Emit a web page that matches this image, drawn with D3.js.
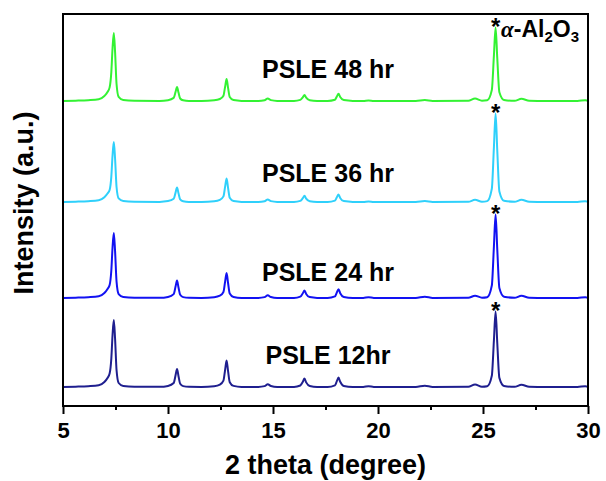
<!DOCTYPE html>
<html><head><meta charset="utf-8">
<script src="https://cdn.jsdelivr.net/npm/d3@7"></script>
<style>
body{margin:0;background:#fff}
svg text{font-family:"Liberation Sans",Arial,Helvetica,sans-serif;font-weight:bold;fill:#000}
</style>
</head><body><svg id="chart" width="606" height="481"></svg>
<script>
// ---- data ----
const twoTheta = [
  5.0, 5.6, 6.2, 6.7, 6.97, 7.12, 7.22, 7.3, 7.36, 7.42, 7.48, 7.55, 7.65, 7.87, 8.4,
  9.6, 10.0, 10.27, 10.36, 10.43, 10.5, 10.58, 10.72, 11.0,
  11.6, 12.2, 12.47, 12.64, 12.72, 12.79, 12.86, 12.94, 13.12, 13.5,
  14.3, 14.6, 14.75, 14.9, 15.2,
  16.0, 16.3, 16.42, 16.5, 16.58, 16.75, 17.1,
  17.6, 17.95, 18.04, 18.12, 18.2, 18.37, 18.8,
  19.3, 19.55, 19.8,
  21.8, 22.23, 22.6,
  24.3, 24.62, 24.95,
  25.2, 25.42, 25.52, 25.6, 25.68, 25.78, 26.0,
  26.5, 26.83, 27.2,
  28.0, 29.5, 29.87, 30.0
];
const int12hr = [
  0, 0.3, 0.8, 1.8, 5, 9, 13.4, 28.1, 52.3, 67, 48.2, 16.8, 4, 1, 0.3,
  0.2, 1.1, 4, 11.7, 18, 10.8, 3.2, 0.9, 0.2,
  0.1, 0.8, 2.4, 6.4, 17.2, 26.5, 15.9, 4.8, 1.1, 0.1,
  0.1, 0.9, 2.8, 1.0, 0.1,
  0.1, 1.5, 5.2, 8.4, 4.6, 1, 0.1,
  0.1, 1.7, 5.8, 9.4, 5.2, 1.1, 0.1,
  0.1, 0.8, 0.1,
  0.1, 1.2, 0.1,
  0.2, 2.5, 0.3,
  0.8, 11.3, 46.8, 75.5, 43.8, 9.1, 1.1,
  0.2, 2.2, 0.2,
  0, 0.1, 0.8, 0.3
];
const int24hr = [
  0, 0.3, 0.8, 1.8, 5, 9, 13, 27.3, 50.7, 65, 46.8, 16.3, 3.9, 1, 0.3,
  0.2, 1.1, 3.9, 11.4, 17.5, 10.5, 3.2, 0.9, 0.2,
  0.1, 0.8, 2.3, 6, 16.3, 25, 15, 4.5, 1, 0.1,
  0.1, 0.9, 2.7, 1.0, 0.1,
  0.1, 1.4, 4.7, 7.5, 4.1, 0.9, 0.1,
  0.1, 1.6, 5.5, 8.8, 4.8, 1.1, 0.1,
  0.1, 0.8, 0.1,
  0.1, 1.2, 0.1,
  0.2, 2.3, 0.3,
  0.8, 12.5, 51.8, 83.5, 48.4, 10, 1.3,
  0.2, 2.2, 0.2,
  0, 0.1, 0.8, 0.3
];
const int36hr = [
  0, 0.3, 0.8, 1.8, 4.8, 8.5, 12, 25.2, 46.8, 60, 43.2, 15, 3.6, 1, 0.3,
  0.1, 0.9, 3.2, 9.4, 14.5, 8.7, 2.6, 0.7, 0.1,
  0.1, 0.7, 2.1, 5.6, 15.3, 23.5, 14.1, 4.2, 0.9, 0.1,
  0.1, 0.8, 2.4, 0.9, 0.1,
  0.1, 1.1, 3.8, 6.2, 3.4, 0.7, 0.1,
  0.1, 1.4, 4.7, 7.5, 4.1, 0.9, 0.1,
  0.1, 0.6, 0.1,
  0.1, 1, 0.1,
  0.2, 2.2, 0.3,
  0.9, 13.3, 54.9, 88.5, 51.3, 10.6, 1.3,
  0.2, 2.2, 0.2,
  0, 0.1, 0.7, 0.3
];
const int48hr = [
  0, 0.3, 0.8, 1.8, 5, 9, 13.6, 28.6, 53, 68, 49, 17, 4.1, 1, 0.3,
  0.1, 0.8, 3.1, 9.1, 14, 8.4, 2.5, 0.7, 0.1,
  0.1, 0.7, 2, 5.3, 14.3, 22, 13.2, 4, 0.9, 0.1,
  0.1, 0.8, 2.4, 0.9, 0.1,
  0.1, 1.1, 3.7, 6, 3.3, 0.7, 0.1,
  0.1, 1.3, 4.5, 7.3, 4, 0.9, 0.1,
  0.1, 0.6, 0.1,
  0.1, 1, 0.1,
  0.2, 2.4, 0.3,
  0.7, 11, 45.6, 73.5, 42.6, 8.8, 1.1,
  0.2, 2.2, 0.2,
  0, 0.1, 0.7, 0.3
];
const seriesNames = ["PSLE 12hr", "PSLE 24 hr", "PSLE 36 hr", "PSLE 48 hr"];
const seriesIntensity = [int12hr, int24hr, int36hr, int48hr];
const baselineOffsets = [19, 108, 204, 305];   // vertical stacking offsets (a.u.)
const xMajorTicks = [5, 10, 15, 20, 25, 30];
const xMinorTicks = [7.5, 12.5, 17.5, 22.5, 27.5];
const aluminaPeak = 25.6;

// ---- styles / layout ----
const colors = ["#1f1f8f", "#1212f2", "#2fd0fb", "#33f233"];
const labelLift = [23, 17, 20, 23];   // px above baseline for series labels
const plot = {left: 63, right: 588, top: 14, bottom: 406};

const svg = d3.select("#chart");
const x = d3.scaleLinear().domain([5, 30]).range([plot.left, plot.right]);
const y = d3.scaleLinear().domain([0, 392]).range([plot.bottom, plot.top]);

const line = d3.line()
  .x(d => x(d[0]))
  .y(d => y(d[1]))
  .curve(d3.curveMonotoneX);

seriesIntensity.forEach((vals, i) => {
  const pts = twoTheta.map((t, k) => [t, vals[k] + baselineOffsets[i]]);
  svg.append("path")
    .attr("d", line(pts))
    .attr("fill", "none")
    .attr("stroke", colors[i])
    .attr("stroke-width", 2)
    .attr("stroke-linejoin", "round");

  // asterisk at the alpha-Al2O3 peak
  const k = twoTheta.indexOf(aluminaPeak);
  svg.append("text")
    .attr("x", x(twoTheta[k]))
    .attr("y", y(vals[k] + baselineOffsets[i]) + 7)
    .attr("text-anchor", "middle")
    .attr("font-size", 24)
    .text("*");

  svg.append("text")
    .attr("x", 328)
    .attr("y", y(baselineOffsets[i]) - labelLift[i])
    .attr("text-anchor", "middle")
    .attr("font-size", 25)
    .text(seriesNames[i]);
});

// alpha-Al2O3 label
const lab = svg.append("text").attr("x", 501).attr("y", 37).attr("font-size", 23);
lab.append("tspan").attr("font-style", "italic").attr("font-family", "'Liberation Serif','DejaVu Serif',serif").attr("font-weight", "bold").text("α");
lab.append("tspan").text("-Al");
lab.append("tspan").attr("font-size", 15).attr("dy", 5).text("2");
lab.append("tspan").attr("dy", -5).text("O");
lab.append("tspan").attr("font-size", 15).attr("dy", 5).text("3");

// frame
svg.append("rect")
  .attr("x", plot.left).attr("y", plot.top)
  .attr("width", plot.right - plot.left).attr("height", plot.bottom - plot.top)
  .attr("fill", "none").attr("stroke", "#000").attr("stroke-width", 2);

// bottom axis
const gx = svg.append("g").attr("transform", `translate(0,${plot.bottom})`)
  .call(d3.axisBottom(x).tickValues(xMajorTicks).tickSize(8).tickPadding(8).tickFormat(d3.format("d")));
gx.select(".domain").remove();
gx.selectAll(".tick line").attr("stroke", "#000").attr("stroke-width", 2);
gx.selectAll(".tick text").attr("font-size", 22).attr("font-family", "'Liberation Sans',Arial,sans-serif").attr("font-weight", "bold").attr("fill", "#000");

const gxm = svg.append("g").attr("transform", `translate(0,${plot.bottom})`)
  .call(d3.axisBottom(x).tickValues(xMinorTicks).tickSize(4).tickFormat(""));
gxm.select(".domain").remove();
gxm.selectAll(".tick line").attr("stroke", "#000").attr("stroke-width", 2);

// axis titles
svg.append("text")
  .attr("x", (plot.left + plot.right) / 2)
  .attr("y", 474)
  .attr("text-anchor", "middle")
  .attr("font-size", 27)
  .text("2 theta (degree)");

svg.append("text")
  .attr("transform", "translate(33,203) rotate(-90)")
  .attr("text-anchor", "middle")
  .attr("font-size", 27)
  .text("Intensity (a.u.)");
</script>
</body></html>
